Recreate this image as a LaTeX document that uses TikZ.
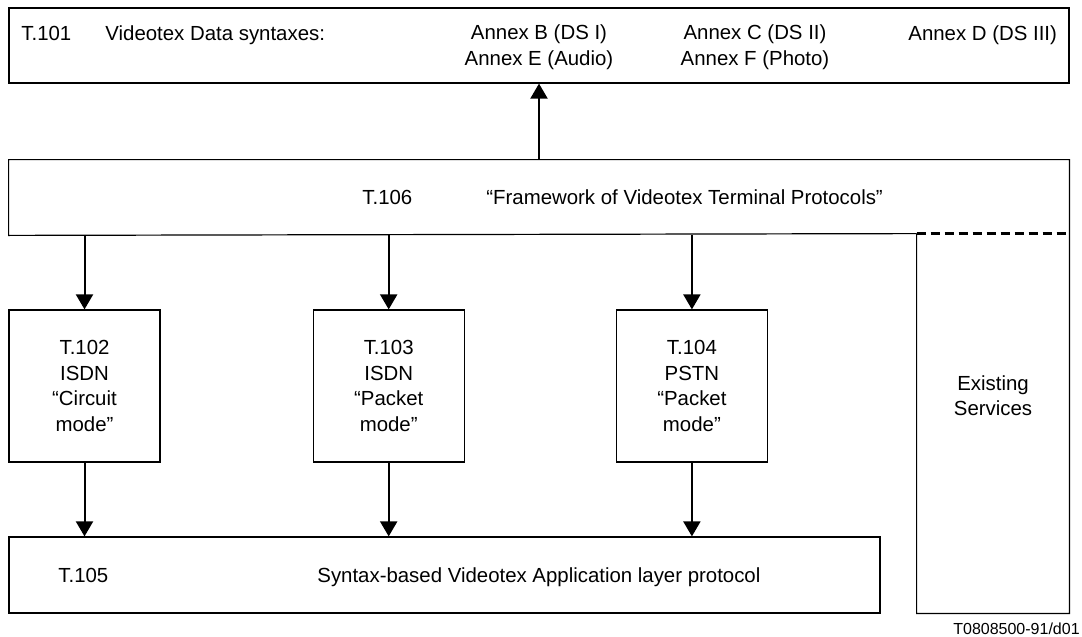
\documentclass[tikz,border=0pt]{standalone}
\usepackage{fontspec}
\setmainfont{Liberation Sans}
\usetikzlibrary{arrows.meta, positioning}

\begin{document}
\begin{tikzpicture}[x=0.5pt, y=-0.5pt, font=\fontsize{10.2}{12.7}\selectfont]
    % Styles
    \tikzstyle{box} = [rectangle, draw, line width=0.6pt, inner sep=0pt, align=center]
    \tikzstyle{frame} = [rectangle, draw=none, inner sep=0pt]
    \tikzstyle{txt} = [rectangle, draw=none, fill=none, inner sep=0pt, align=center]
    \tikzstyle{arrow} = [line width=1pt, -{Triangle[length=7.5pt, width=8.5pt]}]
    \tikzstyle{divider} = [line width=1.5pt, dash pattern=on 4.5pt off 2.5pt]

    \useasboundingbox (0,0) rectangle (1082,637);

    % Data syntaxes
    \node [box, minimum width=530pt, minimum height=37.5pt] (t101) at (539,45.5) {};
    \node [txt, anchor=base west] (t101num) at (21,40) {T.101};
    \node [txt, anchor=base west] (t101name) at (105,40) {Videotex Data syntaxes:};
    \node [txt] (annexbe) at (539,47.4) {Annex B (DS I)\\Annex E (Audio)};
    \node [txt] (annexcf) at (755,47.4) {Annex C (DS II)\\Annex F (Photo)};
    \node [txt, anchor=base west] (annexd) at (908,40) {Annex D (DS III)};

    % Framework
    \node [frame, minimum width=530pt, minimum height=37.5pt, below=38pt of t101] (t106) {};
    \node [txt, anchor=base west] (t106num) at (362,204) {T.106};
    \node [txt, anchor=base west] (t106name) at (486,204) {“Framework of Videotex Terminal Protocols”};

    % Network boxes
    \node [box, minimum width=75.5pt, minimum height=76pt] (t102) at (84.5,386) {T.102\\ISDN\\“Circuit\\mode”};
    \node [box, minimum width=75.5pt, minimum height=76pt, right=76pt of t102] (t103) {T.103\\ISDN\\“Packet\\mode”};
    \node [box, minimum width=75.5pt, minimum height=76pt, right=75.5pt of t103] (t104) {T.104\\PSTN\\“Packet\\mode”};

    % Application layer
    \node [box, minimum width=435.5pt, minimum height=38pt] (t105) at (444.5,575) {};
    \node [txt, anchor=base west] (t105num) at (58,582) {T.105};
    \node [txt, anchor=base west] (t105name) at (317,582) {Syntax-based Videotex Application layer protocol};

    % Existing services
    \node [frame, minimum width=76pt, minimum height=189.5pt] (serv) at (993,423.5) {};
    \node [txt] (servname) at (993,396) {Existing\\Services};

    \node [txt, anchor=base, font=\fontsize{8}{10}\selectfont] (figno) at (1016.5,634.5) {T0808500-91/d01};

    % Outlines
    \draw [line width=0.6pt] (serv.north west) -- (t106.south west) -- (t106.north west) -- (t106.north east)
        -- (t106.south east) -- (serv.south east) -- (serv.south west) -- (serv.north west);
    \draw [divider] (serv.north west) -- (serv.north east);

    % Connections
    \draw [arrow] (t106.north) -- (t101.south);
    \foreach \n in {t102,t103,t104} {
        \draw [arrow] (\n.north |- t106.south) -- (\n.north);
        \draw [arrow] (\n.south) -- (\n.south |- t105.north);
    }

\end{tikzpicture}
\end{document}
